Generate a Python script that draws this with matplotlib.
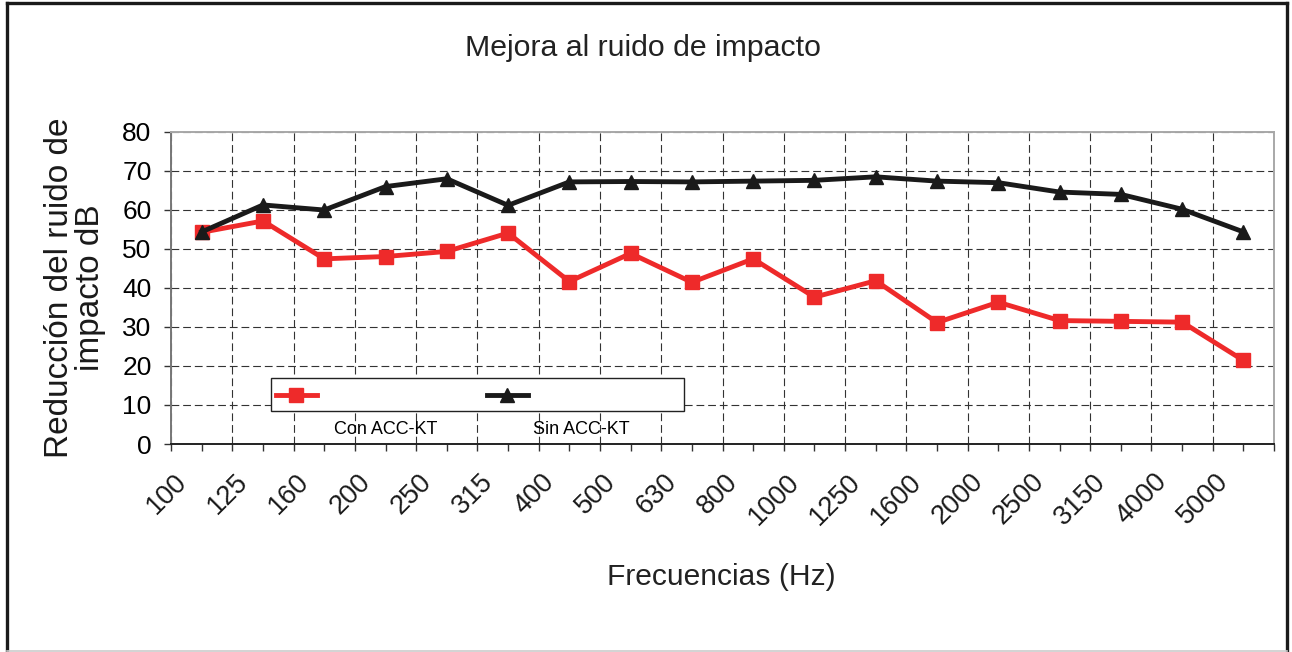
#!/usr/bin/env python3
"""
Line chart: impact noise reduction by frequency band, with and without ACC-KT
"""
import numpy as np
import matplotlib
matplotlib.use('Agg')
import matplotlib.pyplot as plt
from matplotlib.lines import Line2D
from matplotlib.patches import Rectangle
import matplotlib.transforms as mtransforms

frequencies = ['100', '125', '160', '200', '250', '315', '400', '500', '630',
               '800', '1000', '1250', '1600', '2000', '2500', '3150', '4000',
               '5000']
con_acc = [54.2, 57.1, 47.4, 48.0, 49.3, 54.0, 41.6, 48.8, 41.4,
           47.4, 37.6, 41.8, 31.1, 36.3, 31.6, 31.4, 31.2, 21.4]
sin_acc = [54.3, 61.2, 59.9, 65.9, 67.9, 61.1, 67.1, 67.2, 67.1,
           67.3, 67.5, 68.4, 67.3, 66.9, 64.5, 63.9, 60.1, 54.3]
series_names = ['Con ACC-KT', 'Sin ACC-KT']
yticks = np.arange(0, 81, 10)


def main():
    plt.rcParams['font.family'] = ['Liberation Sans', 'DejaVu Sans']
    fig = plt.figure(figsize=(12.92, 6.52), dpi=100)
    ax = fig.add_axes([0.1324, 0.3190, 0.8537, 0.4793])

    x = np.arange(len(frequencies)) + 0.5
    red, = ax.plot(x, con_acc, color='#ee2a2a', lw=3.5, marker='s',
                   markersize=9.5, zorder=3)
    black, = ax.plot(x, sin_acc, color='#1a1a1a', lw=3.5, marker='^',
                     markersize=9.5, zorder=4)

    ax.set_xlim(0, len(frequencies))
    ax.set_ylim(0, 80)
    ax.set_yticks(yticks)
    ax.set_xticks(np.arange(len(frequencies) + 1))
    ax.set_xticks(x, minor=True)
    ax.set_xticklabels([])
    ax.tick_params(axis='x', which='both', length=5, width=1,
                   color='#333333')
    ax.tick_params(axis='y', length=5, width=1, color='#333333',
                   labelsize=19, pad=9)

    # rotated category labels, Excel style (end of text left of the centre)
    trans = mtransforms.blended_transform_factory(ax.transData, ax.transAxes)
    shift = mtransforms.ScaledTranslation(-19 / 100, -34 / 100,
                                          fig.dpi_scale_trans)
    for xi, lab in zip(x, frequencies):
        ax.text(xi, 0, lab, transform=trans + shift, rotation=45,
                ha='right', va='center', rotation_mode='anchor',
                fontsize=19.5, color='#1a1a1a')

    ax.grid(True, which='major', color='#333333', lw=0.8,
            linestyle=(0, (7, 3.5)))
    ax.set_axisbelow(True)

    ax.spines['left'].set_color('#777777')
    ax.spines['bottom'].set_color('#222222')
    ax.spines['top'].set_color('#a8a8a8')
    ax.spines['right'].set_color('#a8a8a8')
    for s in ax.spines.values():
        s.set_linewidth(1.4)

    ax.set_ylabel('Reducción del ruido de\nimpacto dB', fontsize=24,
                  labelpad=12, linespacing=1.0, color='#1a1a1a')
    fig.text(0.4977, 0.927, 'Mejora al ruido de impacto', fontsize=21.8,
             ha='center', va='center', color='#222222')
    fig.text(0.558, 0.115, 'Frecuencias (Hz)', fontsize=21.6, ha='center',
             va='center', color='#222222')

    # legend: box with line samples, names written underneath
    box = Rectangle((0.0907, 0.105), 0.3744, 0.105, transform=ax.transAxes,
                    facecolor='white', edgecolor='#222222', lw=1.0,
                    zorder=5)
    ax.add_patch(box)
    leg = ax.legend([red, black], ['', ''], ncol=2, loc='center left',
                    bbox_to_anchor=(0.0952, 0.1525), frameon=False,
                    fontsize=12, handlelength=2.45, handletextpad=0,
                    borderpad=0, borderaxespad=0, columnspacing=10.2)
    leg.set_zorder(6)
    for name, xpos in zip(series_names, [0.195, 0.372]):
        ax.text(xpos, 0.045, name, transform=ax.transAxes, fontsize=13,
                ha='center', va='center', color='black', zorder=6)

    # outer frame around the whole picture
    fig.add_artist(Line2D([0.0058, 0.0058], [0, 0.9947], color='#1a1a1a',
                          lw=2.4, transform=fig.transFigure))
    fig.add_artist(Line2D([0.0058, 0.9962], [0.9947, 0.9947],
                          color='#1a1a1a', lw=2.4,
                          transform=fig.transFigure))
    fig.add_artist(Line2D([0.9962, 0.9962], [0, 0.9947], color='#1a1a1a',
                          lw=2.4, transform=fig.transFigure))
    fig.add_artist(Line2D([0.0058, 0.9962], [0.0015, 0.0015],
                          color='#cccccc', lw=1.2,
                          transform=fig.transFigure))

    fig.savefig('out.png', dpi=100)


if __name__ == '__main__':
    main()
